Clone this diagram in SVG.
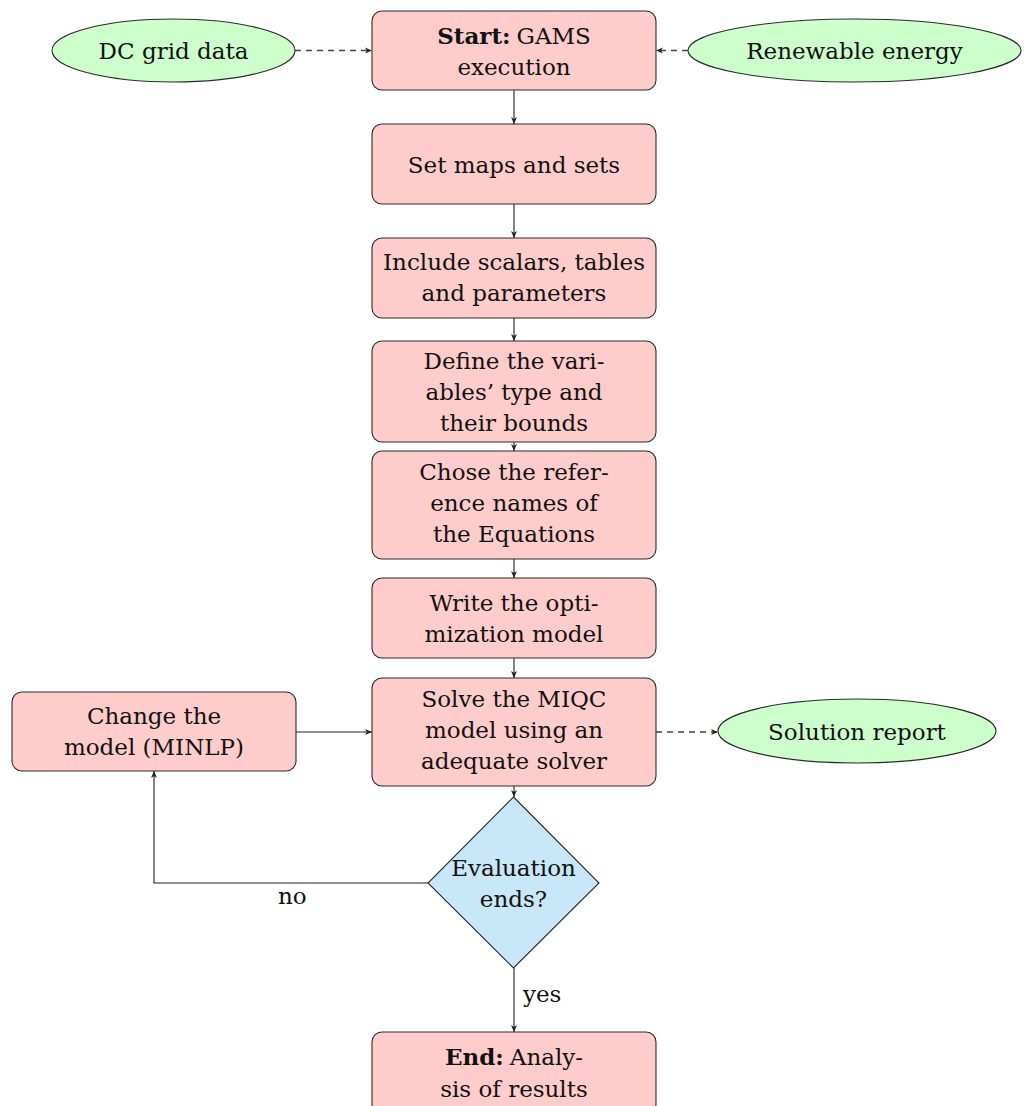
<svg xmlns="http://www.w3.org/2000/svg" width="1025" height="1106" viewBox="0 0 1025 1106">
<style>
text{font-family:"DejaVu Serif","Liberation Serif",serif;font-size:23px;fill:#111;text-anchor:middle}
.box{fill:#ffcccc;stroke:#2a2a2a;stroke-width:1.1}
.ell{fill:#ccffcc;stroke:#2a2a2a;stroke-width:1.1}
.dia{fill:#c8e7f8;stroke:#2a2a2a;stroke-width:1.1}
.c{fill:none;stroke:#222;stroke-width:1.1}
.d{fill:none;stroke:#444;stroke-width:1.3;stroke-dasharray:6 5}
.b{font-weight:bold}
.lbl{text-anchor:start}
</style>
<defs>
<marker id="ah" viewBox="-8 -4 8 8" refX="0" refY="0" markerWidth="8" markerHeight="8" markerUnits="userSpaceOnUse" orient="auto">
<path d="M0,0 L-7,-3 L-5,0 L-7,3 Z" fill="#222"/>
</marker>
</defs>
<g id="connectors">
<path class="c" d="M514,90 V124" marker-end="url(#ah)"/>
<path class="c" d="M514,204 V238" marker-end="url(#ah)"/>
<path class="c" d="M514,318 V341" marker-end="url(#ah)"/>
<path class="c" d="M514,442 V451" marker-end="url(#ah)"/>
<path class="c" d="M514,559 V578" marker-end="url(#ah)"/>
<path class="c" d="M514,658 V678" marker-end="url(#ah)"/>
<path class="c" d="M514,786 V797" marker-end="url(#ah)"/>
<path class="c" d="M514,968 V1032" marker-end="url(#ah)"/>
<path class="c" d="M296,732 H372" marker-end="url(#ah)"/>
<path class="c" d="M428,883 H154 V771" marker-end="url(#ah)"/>
<path class="d" d="M295,50.5 H372" marker-end="url(#ah)"/>
<path class="d" d="M688,50.5 H656" marker-end="url(#ah)"/>
<path class="d" d="M656,732 H718" marker-end="url(#ah)"/>
<text class="lbl" x="278" y="904">no</text>
<text class="lbl" x="523" y="1002">yes</text>
</g>
<g id="dcgrid">
<ellipse class="ell" cx="173.5" cy="50.5" rx="121.5" ry="31.5"/>
<text x="173.5" y="59">DC grid data</text>
</g>
<g id="renewable">
<ellipse class="ell" cx="854.5" cy="50.5" rx="166.5" ry="31.5"/>
<text x="854.5" y="59">Renewable energy</text>
</g>
<g id="start">
<rect class="box" x="372" y="11" width="284" height="79" rx="10"/>
<text x="514" y="44"><tspan class="b">Start:</tspan><tspan dx="6">GAMS</tspan></text>
<text x="514" y="75">execution</text>
</g>
<g id="sets">
<rect class="box" x="372" y="124" width="284" height="80" rx="10"/>
<text x="514" y="172.5">Set maps and sets</text>
</g>
<g id="scalars">
<rect class="box" x="372" y="238" width="284" height="80" rx="10"/>
<text x="514" y="270">Include scalars, tables</text>
<text x="514" y="301">and parameters</text>
</g>
<g id="variables">
<rect class="box" x="372" y="341" width="284" height="101" rx="10"/>
<text x="514" y="369">Define the vari-</text>
<text x="514" y="400">ables’ type and</text>
<text x="514" y="431">their bounds</text>
</g>
<g id="equations">
<rect class="box" x="372" y="451" width="284" height="108" rx="10"/>
<text x="514" y="480">Chose the refer-</text>
<text x="514" y="511">ence names of</text>
<text x="514" y="542">the Equations</text>
</g>
<g id="model">
<rect class="box" x="372" y="578" width="284" height="80" rx="10"/>
<text x="514" y="611">Write the opti-</text>
<text x="514" y="642">mization model</text>
</g>
<g id="solve">
<rect class="box" x="372" y="678" width="284" height="108" rx="10"/>
<text x="514" y="707">Solve the MIQC</text>
<text x="514" y="738">model using an</text>
<text x="514" y="769">adequate solver</text>
</g>
<g id="change">
<rect class="box" x="12" y="692" width="284" height="79" rx="10"/>
<text x="154" y="724">Change the</text>
<text x="154" y="755">model (MINLP)</text>
</g>
<g id="report">
<ellipse class="ell" cx="857" cy="731" rx="139" ry="32"/>
<text x="857" y="739.5">Solution report</text>
</g>
<g id="evaluation">
<path class="dia" d="M513.5,797 L599,883 L513.5,968 L428,883 Z"/>
<text x="513.5" y="876">Evaluation</text>
<text x="513.5" y="907">ends?</text>
</g>
<g id="end">
<rect class="box" x="372" y="1032" width="284" height="82" rx="10"/>
<text x="514" y="1065"><tspan class="b">End:</tspan><tspan dx="6">Analy-</tspan></text>
<text x="514" y="1097">sis of results</text>
</g>
</svg>
